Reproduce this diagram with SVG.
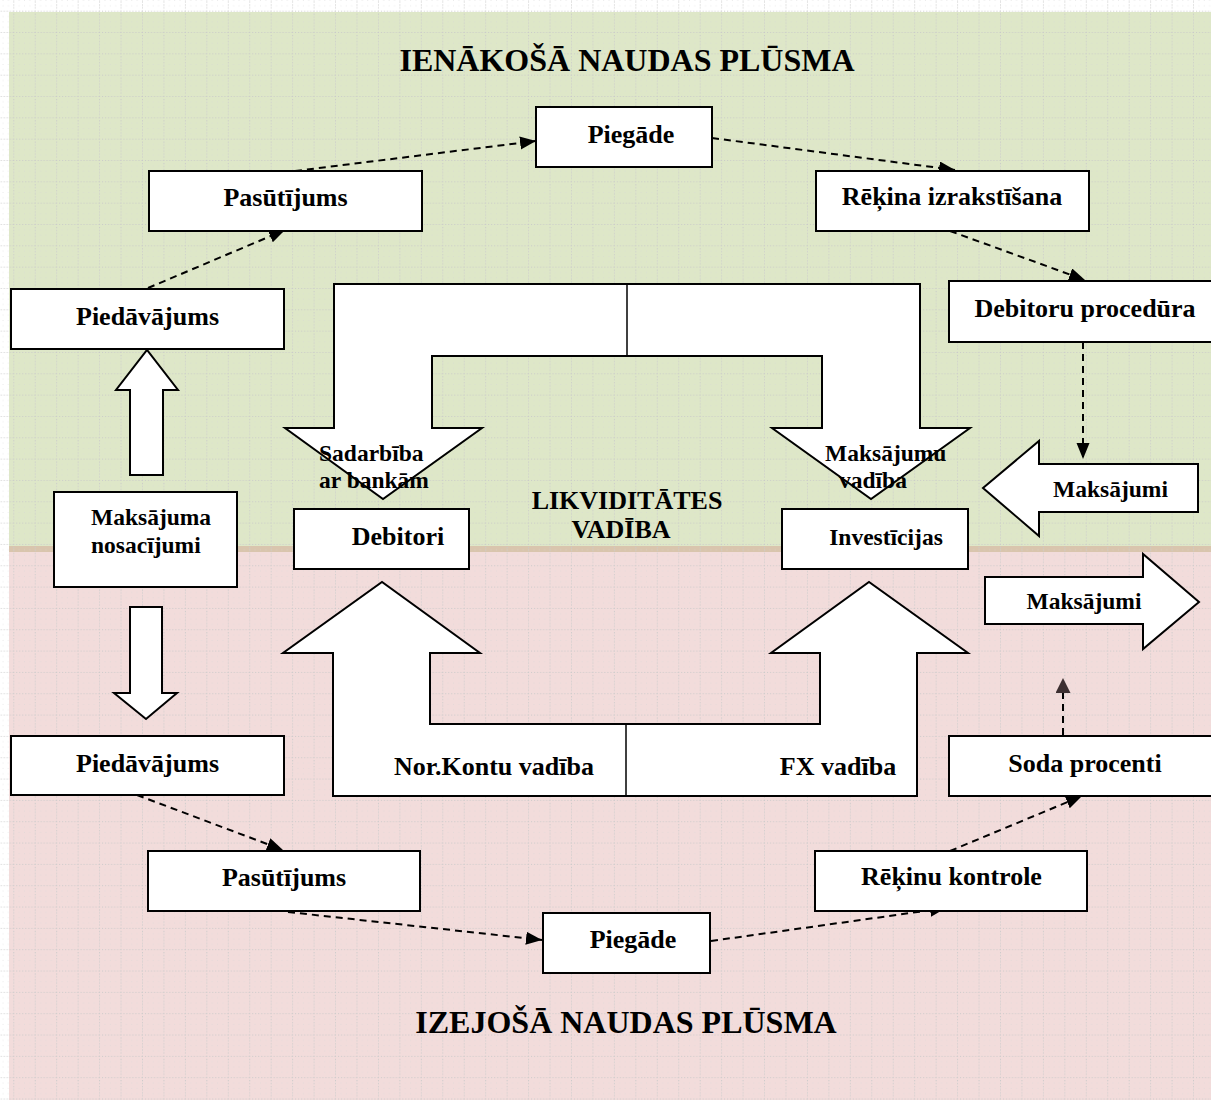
<svg xmlns="http://www.w3.org/2000/svg" width="1211" height="1100" viewBox="0 0 1211 1100">
<defs>
<pattern id="grid" patternUnits="userSpaceOnUse" x="13.3" y="10.7" width="21.45" height="21.33">
<path d="M0 0.5H21.45" stroke="#c9c9c9" stroke-width="1" stroke-dasharray="1 2"/>
<path d="M0.5 0V21.33" stroke="#c9c9c9" stroke-width="1" stroke-dasharray="1 2"/>
<path d="M0 5.83H21.45M0 11.16H21.45M0 16.5H21.45" stroke="#d6d6d6" stroke-width="1" stroke-dasharray="1 4.36" opacity="0.5"/>
</pattern>
<marker id="ah" markerUnits="userSpaceOnUse" markerWidth="18" markerHeight="14" refX="16" refY="6.5" orient="auto">
<path d="M0 0L16 6.5L0 13Z" fill="#000"/>
</marker>
<marker id="ah2" markerUnits="userSpaceOnUse" markerWidth="16" markerHeight="16" refX="15" refY="7.5" orient="auto">
<path d="M0 0L15 7.5L0 15Z" fill="#3d2f31"/>
</marker>
</defs>
<style>
.box{fill:#fff;stroke:#000;stroke-width:2}
.shape{fill:#fff;stroke:#000;stroke-width:2;stroke-linejoin:miter}
.t{font-family:"Liberation Serif","Times New Roman",serif;font-weight:bold;font-size:26px;fill:#000}
.s{font-size:23.5px}
.title{font-size:32px}
.c{text-anchor:middle}
.con{fill:none;stroke:#000;stroke-width:2;stroke-dasharray:7 5}
</style>
<rect width="1211" height="1100" fill="#fff"/>
<rect x="9" y="12" width="1202" height="534" fill="#dee7c8"/>
<rect x="9" y="546" width="1202" height="6" fill="#d9c5ad"/>
<rect x="9" y="552" width="1202" height="548" fill="#f2dcdb"/>
<rect width="1211" height="1100" fill="url(#grid)"/>

<text class="t title c" x="627" y="71">IENĀKOŠĀ NAUDAS PLŪSMA</text>
<text class="t title c" x="626" y="1033">IZEJOŠĀ NAUDAS PLŪSMA</text>

<g id="connectors">
<path class="con" d="M148 288L285 230" marker-end="url(#ah)"/>
<path class="con" d="M295 171L536 141" marker-end="url(#ah)"/>
<path class="con" d="M712 138L955 170" marker-end="url(#ah)"/>
<path class="con" d="M950 231L1085 280" marker-end="url(#ah)"/>
<path class="con" d="M1083 342L1083 459" marker-end="url(#ah)"/>
<path class="con" d="M137 795L283 850" marker-end="url(#ah)"/>
<path class="con" d="M288 912L542 940" marker-end="url(#ah)"/>
<path class="con" d="M711 941L946 908" marker-end="url(#ah)"/>
<path class="con" d="M950 851L1082 796" marker-end="url(#ah)"/>
<path class="con" d="M1063 735L1063 678" stroke="#3d2f31" marker-end="url(#ah2)"/>
</g>

<g id="likviditate-top">
<path class="shape" d="M334 284H920V428H970L871 499L772 428H822V356H432V428H482L383 499L285 428H334Z"/>
<path d="M627 284V356" stroke="#000" stroke-width="1.5"/>
<text class="t s" x="319" y="461">Sadarbība</text>
<text class="t s" x="319" y="488">ar bankām</text>
<text class="t s" x="825" y="461">Maksājumu</text>
<text class="t s" x="839" y="488">vadība</text>
</g>
<g id="likviditate-bottom">
<path class="shape" d="M333 796H917V653H968L869 582L771 653H820V724H430V653H480L382 582L283 653H333Z"/>
<path d="M626 724V796" stroke="#000" stroke-width="1.5"/>
<text class="t c" x="494" y="775">Nor.Kontu vadība</text>
<text class="t c" x="838" y="775">FX vadība</text>
</g>
<g id="likviditates-vadiba">
<text class="t c" x="627" y="509">LIKVIDITĀTES</text>
<text class="t c" x="621" y="538">VADĪBA</text>
</g>

<g id="piegade-top"><rect class="box" x="536" y="107" width="176" height="60"/><text class="t c" x="631" y="143">Piegāde</text></g>
<g id="pasutijums-top"><rect class="box" x="149" y="171" width="273" height="60"/><text class="t c" x="285.5" y="206">Pasūtījums</text></g>
<g id="piedavajums-top"><rect class="box" x="11" y="289" width="273" height="60"/><text class="t c" x="147.5" y="325">Piedāvājums</text></g>
<g id="rekina-izrakstisana"><rect class="box" x="816" y="171" width="273" height="60"/><text class="t c" x="952" y="205">Rēķina izrakstīšana</text></g>
<g id="debitoru-procedura"><rect class="box" x="949" y="281" width="272" height="61"/><text class="t c" x="1085" y="317">Debitoru procedūra</text></g>

<g id="maksajumi-in">
<path class="shape" d="M983 488L1039 441V464H1198V512H1039V536Z"/>
<text class="t s c" x="1110.5" y="497">Maksājumi</text>
</g>
<g id="maksajumi-out">
<path class="shape" d="M985 577H1143V554L1199 602L1143 649V624H985Z"/>
<text class="t s c" x="1084" y="609">Maksājumi</text>
</g>

<g id="arrow-up"><path class="shape" d="M130 475V390H116L147 350L178 390H163V475Z"/></g>
<g id="maksajuma-nosacijumi"><rect class="box" x="54" y="492" width="183" height="95"/><text class="t s" x="91" y="525">Maksājuma</text><text class="t s" x="91" y="553">nosacījumi</text></g>
<g id="arrow-down"><path class="shape" d="M130 607H162V693H177L146 719L114 693H130Z"/></g>

<g id="debitori"><rect class="box" x="294" y="509" width="175" height="60"/><text class="t c" x="398" y="545">Debitori</text></g>
<g id="investicijas"><rect class="box" x="782" y="509" width="186" height="60"/><text class="t s c" x="886" y="545">Investīcijas</text></g>

<g id="piedavajums-bottom"><rect class="box" x="11" y="736" width="273" height="59"/><text class="t c" x="147.5" y="772">Piedāvājums</text></g>
<g id="pasutijums-bottom"><rect class="box" x="148" y="851" width="272" height="60"/><text class="t c" x="284" y="886">Pasūtījums</text></g>
<g id="piegade-bottom"><rect class="box" x="543" y="913" width="167" height="60"/><text class="t c" x="633" y="948">Piegāde</text></g>
<g id="rekinu-kontrole"><rect class="box" x="815" y="851" width="272" height="60"/><text class="t c" x="951.5" y="885">Rēķinu kontrole</text></g>
<g id="soda-procenti"><rect class="box" x="949" y="736" width="272" height="60"/><text class="t c" x="1085" y="772">Soda procenti</text></g>
</svg>
